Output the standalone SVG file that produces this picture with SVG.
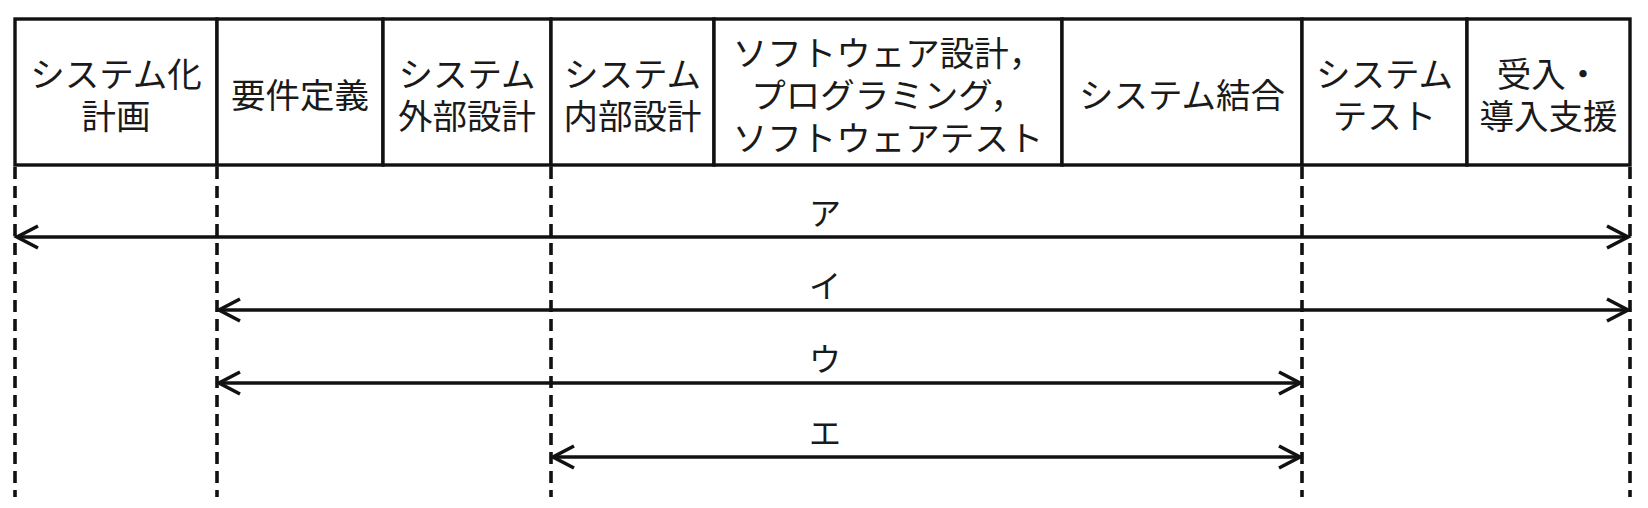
<svg xmlns="http://www.w3.org/2000/svg" width="1648" height="508" viewBox="0 0 1648 508">
<style>
.cell{fill:#fff;stroke:#111;stroke-width:3.4}
.t{font-family:"Noto Sans CJK JP","Noto Sans CJK SC",sans-serif;font-size:34.5px;fill:#1a1a1a;text-anchor:middle}
.lbl{font-family:"Noto Sans CJK JP","Noto Sans CJK SC",sans-serif;font-size:32px;fill:#1a1a1a;text-anchor:middle}
.dash{stroke:#111;stroke-width:3.6;stroke-dasharray:12 7;fill:none}
.arr{stroke:#111;stroke-width:3.4;fill:none;marker-start:url(#ah);marker-end:url(#ah)}
</style>
<defs>
<marker id="ah" markerUnits="userSpaceOnUse" viewBox="-28 -16 32 32" refX="0" refY="0" markerWidth="32" markerHeight="32" orient="auto-start-reverse">
<path d="M-21,-11 L0,0 L-21,11" fill="none" stroke="#111" stroke-width="3.6" stroke-linejoin="miter"/>
</marker>
</defs>
<rect width="1648" height="508" fill="#fff"/>
<g id="header">
<g id="n1"><rect class="cell" x="15" y="19" width="202" height="146"/><text class="t" x="116" y="87">システム化</text><text class="t" x="116" y="129">計画</text></g>
<g id="n2"><rect class="cell" x="217" y="19" width="166" height="146"/><text class="t" x="300" y="108">要件定義</text></g>
<g id="n3"><rect class="cell" x="383" y="19" width="168" height="146"/><text class="t" x="467" y="87">システム</text><text class="t" x="467" y="129">外部設計</text></g>
<g id="n4"><rect class="cell" x="551" y="19" width="163" height="146"/><text class="t" x="632.5" y="87">システム</text><text class="t" x="632.5" y="129">内部設計</text></g>
<g id="n5"><rect class="cell" x="714" y="19" width="348" height="146"/><text class="t" x="888" y="66">ソフトウェア設計，</text><text class="t" x="888" y="108">プログラミング，</text><text class="t" x="888" y="151">ソフトウェアテスト</text></g>
<g id="n6"><rect class="cell" x="1062" y="19" width="240" height="146"/><text class="t" x="1182" y="108">システム結合</text></g>
<g id="n7"><rect class="cell" x="1302" y="19" width="165" height="146"/><text class="t" x="1384.5" y="87">システム</text><text class="t" x="1384.5" y="129">テスト</text></g>
<g id="n8"><rect class="cell" x="1467" y="19" width="163" height="146"/><text class="t" x="1548.5" y="87">受入・</text><text class="t" x="1548.5" y="129">導入支援</text></g>
</g>
<g id="guides">
<line class="dash" x1="15" y1="167" x2="15" y2="497"/>
<line class="dash" x1="217" y1="167" x2="217" y2="497"/>
<line class="dash" x1="551" y1="167" x2="551" y2="497"/>
<line class="dash" x1="1302" y1="167" x2="1302" y2="497"/>
<line class="dash" x1="1630" y1="167" x2="1630" y2="497"/>
</g>
<g id="connectors">
<g id="e-a"><line class="arr" x1="17" y1="237" x2="1628" y2="237"/><text class="lbl" x="825" y="225">ア</text></g>
<g id="e-i"><line class="arr" x1="219" y1="310" x2="1628" y2="310"/><text class="lbl" x="825" y="298">イ</text></g>
<g id="e-u"><line class="arr" x1="219" y1="383" x2="1300" y2="383"/><text class="lbl" x="825" y="371">ウ</text></g>
<g id="e-e"><line class="arr" x1="553" y1="457" x2="1300" y2="457"/><text class="lbl" x="825" y="445">エ</text></g>
</g>
</svg>
